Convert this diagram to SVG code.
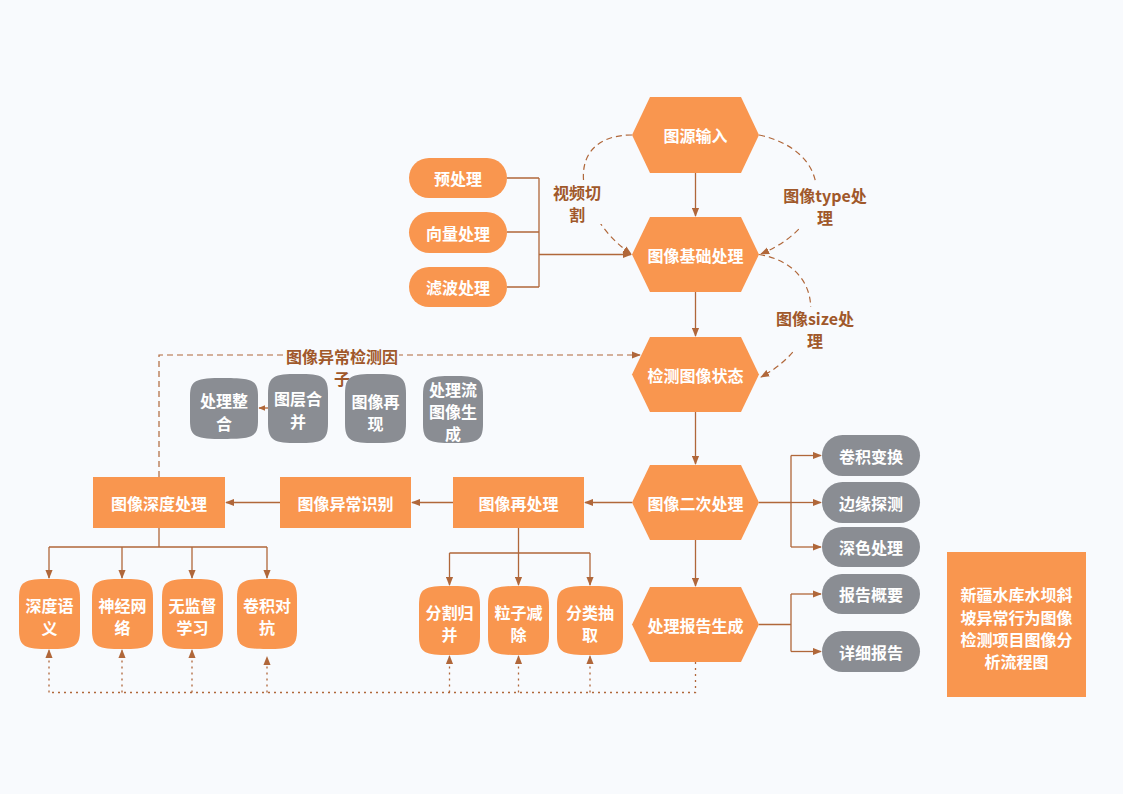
<svg xmlns="http://www.w3.org/2000/svg" width="1123" height="794" viewBox="0 0 1123 794">
<defs>
<style>
.bg{fill:#F8FAFD}
.or{fill:#F9964F}
.gr{fill:#8A8D93}
.ln{fill:none;stroke:#B0673A;stroke-width:1.3}
.da{fill:none;stroke:#B0673A;stroke-width:1.2;stroke-dasharray:6 4}
.dot{fill:none;stroke:#B0673A;stroke-width:1.3;stroke-dasharray:2 4}
.t{font-family:"Noto Sans CJK SC","Noto Sans",sans-serif;font-size:16px;font-weight:bold;fill:#FFFFFF;text-anchor:middle;dominant-baseline:central}
.lb{font-family:"Noto Sans CJK SC","Noto Sans",sans-serif;font-size:16px;font-weight:bold;fill:#A0582A;text-anchor:middle;dominant-baseline:central}
</style>
<marker id="ah" viewBox="0 0 10 8" refX="9" refY="4" markerWidth="9" markerHeight="8" markerUnits="userSpaceOnUse" orient="auto">
<path d="M0,0 L10,4 L0,8 Z" fill="#B0673A"/>
</marker>
<marker id="ahs" viewBox="0 0 10 8" refX="9" refY="4" markerWidth="7" markerHeight="6" markerUnits="userSpaceOnUse" orient="auto">
<path d="M0,0 L10,4 L0,8 Z" fill="#B0673A"/>
</marker>
</defs>
<rect class="bg" x="0" y="0" width="1123" height="794"/>

<g id="connectors">
<path class="ln" d="M695.5,173 V216" marker-end="url(#ah)"/>
<path class="ln" d="M695.5,292 V336" marker-end="url(#ah)"/>
<path class="ln" d="M695.5,412 V464" marker-end="url(#ah)"/>
<path class="ln" d="M695.5,540 V586" marker-end="url(#ah)"/>
<path class="ln" d="M507,178 H539 M507,232 H539 M507,287 H539 M539,178 V287"/>
<path class="ln" d="M539,254.5 H631" marker-end="url(#ah)"/>
<path class="da" d="M632,135 C560,135 575,215 631,254" marker-end="url(#ah)"/>
<path class="da" d="M759,135 C830,150 840,220 761,254" marker-end="url(#ah)"/>
<path class="da" d="M759,254.5 C825,265 830,340 761,377" marker-end="url(#ah)"/>
<path class="da" d="M159,477 V355 H640" marker-end="url(#ah)"/>
<path class="ln" d="M632,502.5 H585" marker-end="url(#ah)"/>
<path class="ln" d="M453,502.5 H412" marker-end="url(#ah)"/>
<path class="ln" d="M280,502.5 H226" marker-end="url(#ah)"/>
<path class="ln" d="M268,408 H259" marker-end="url(#ahs)"/>
<path class="ln" d="M159,528 V547 M49,547 H267"/>
<path class="ln" d="M49,547 V578" marker-end="url(#ah)"/>
<path class="ln" d="M122,547 V578" marker-end="url(#ah)"/>
<path class="ln" d="M192,547 V578" marker-end="url(#ah)"/>
<path class="ln" d="M267,547 V578" marker-end="url(#ah)"/>
<path class="ln" d="M518.5,528 V553 M449.5,553 H590"/>
<path class="ln" d="M449.5,553 V585" marker-end="url(#ah)"/>
<path class="ln" d="M518.5,553 V585" marker-end="url(#ah)"/>
<path class="ln" d="M590,553 V585" marker-end="url(#ah)"/>
<path class="ln" d="M759,502.5 H791 M791,455.5 V547"/>
<path class="ln" d="M791,455.5 H821" marker-end="url(#ah)"/>
<path class="ln" d="M791,502.5 H821" marker-end="url(#ah)"/>
<path class="ln" d="M791,547 H821" marker-end="url(#ah)"/>
<path class="ln" d="M759,624.5 H791 M791,594 V651.5"/>
<path class="ln" d="M791,594 H821" marker-end="url(#ah)"/>
<path class="ln" d="M791,651.5 H821" marker-end="url(#ah)"/>
<path class="dot" d="M695.5,662 V692.5 H49"/>
<path class="dot" d="M49,692.5 V650" marker-end="url(#ah)"/>
<path class="dot" d="M122,692.5 V650" marker-end="url(#ah)"/>
<path class="dot" d="M192,692.5 V650" marker-end="url(#ah)"/>
<path class="dot" d="M267,692.5 V657" marker-end="url(#ah)"/>
<path class="dot" d="M449.5,692.5 V656" marker-end="url(#ah)"/>
<path class="dot" d="M518.5,692.5 V656" marker-end="url(#ah)"/>
<path class="dot" d="M590,692.5 V656" marker-end="url(#ah)"/>
</g>

<g id="labels">
<rect class="bg" x="552" y="181" width="50" height="43"/>
<text class="lb" x="577" y="192">视频切<tspan x="577" dy="22">割</tspan></text>
<rect class="bg" x="782" y="184" width="86" height="43"/>
<text class="lb" x="825" y="195">图像type处<tspan x="825" dy="22">理</tspan></text>
<rect class="bg" x="775" y="307" width="80" height="43"/>
<text class="lb" x="815" y="318">图像size处<tspan x="815" dy="22">理</tspan></text>
<rect class="bg" x="285" y="346" width="114" height="42"/>
<text class="lb" x="342" y="356">图像异常检测因<tspan x="342" dy="22">子</tspan></text>
</g>

<g id="n-tuyuan"><polygon class="or" points="632,135 650,97 741,97 759,135 741,173 650,173"/><text class="t" x="695.5" y="135">图源输入</text></g>
<g id="n-jichu"><polygon class="or" points="632,254.5 650,217 741,217 759,254.5 741,292 650,292"/><text class="t" x="695.5" y="254.5">图像基础处理</text></g>
<g id="n-jiance"><polygon class="or" points="632,374.5 650,337 741,337 759,374.5 741,412 650,412"/><text class="t" x="695.5" y="374.5">检测图像状态</text></g>
<g id="n-erci"><polygon class="or" points="632,502.5 650,465 741,465 759,502.5 741,540 650,540"/><text class="t" x="695.5" y="502.5">图像二次处理</text></g>
<g id="n-baogao"><polygon class="or" points="632,624.5 650,587 741,587 759,624.5 741,662 650,662"/><text class="t" x="695.5" y="624.5">处理报告生成</text></g>

<g id="n-yuchuli"><rect class="or" x="409" y="158" width="98" height="40" rx="20"/><text class="t" x="458" y="178">预处理</text></g>
<g id="n-xiangliang"><rect class="or" x="409" y="212" width="98" height="41" rx="20.5"/><text class="t" x="458" y="232.5">向量处理</text></g>
<g id="n-lvbo"><rect class="or" x="409" y="267" width="98" height="40" rx="20"/><text class="t" x="458" y="287">滤波处理</text></g>

<g id="n-shendu"><rect class="or" x="93" y="477" width="132" height="51"/><text class="t" x="159" y="502.5">图像深度处理</text></g>
<g id="n-yichang"><rect class="or" x="280" y="477" width="131" height="51"/><text class="t" x="345.5" y="502.5">图像异常识别</text></g>
<g id="n-zaichuli"><rect class="or" x="453" y="477" width="131" height="51"/><text class="t" x="518.5" y="502.5">图像再处理</text></g>

<g id="n-zhenghe"><path class="gr" d="M190,396 C190,380 196,378 224,378 C252,378 258,380 258,396 V421 C258,437 252,439 224,439 C196,439 190,437 190,421 Z"/><text class="t" x="224" y="400">处理整<tspan x="224" dy="23">合</tspan></text></g>
<g id="n-tuceng"><path class="gr" d="M268,394 C268,376 274,374 298,374 C322,374 328,376 328,394 V423 C328,441 322,443 298,443 C274,443 268,441 268,423 Z"/><text class="t" x="298" y="398">图层合<tspan x="298" dy="23">并</tspan></text></g>
<g id="n-zaixian"><path class="gr" d="M345,394 C345,376 351,374 375.5,374 C400,374 406,376 406,394 V423 C406,441 400,443 375.5,443 C351,443 345,441 345,423 Z"/><text class="t" x="375.5" y="401">图像再<tspan x="375.5" dy="22">现</tspan></text></g>
<g id="n-liutu"><path class="gr" d="M423,395 C423,378 429,376 453,376 C477,376 483,378 483,395 V424 C483,441 477,443 453,443 C429,443 423,441 423,424 Z"/><text class="t" x="453" y="389">处理流<tspan x="453" dy="22">图像生</tspan><tspan x="453" dy="22">成</tspan></text></g>

<g id="n-yuyi"><path class="or" d="M19,598 C19,581 25,579 49.5,579 C74,579 80,581 80,598 V630 C80,647 74,649 49.5,649 C25,649 19,647 19,630 Z"/><text class="t" x="49.5" y="605">深度语<tspan x="49.5" dy="22">义</tspan></text></g>
<g id="n-shenjing"><path class="or" d="M92,598 C92,581 98,579 122.5,579 C147,579 153,581 153,598 V630 C153,647 147,649 122.5,649 C98,649 92,647 92,630 Z"/><text class="t" x="122.5" y="605">神经网<tspan x="122.5" dy="22">络</tspan></text></g>
<g id="n-wujiandu"><path class="or" d="M162,598 C162,581 168,579 192.5,579 C217,579 223,581 223,598 V630 C223,647 217,649 192.5,649 C168,649 162,647 162,630 Z"/><text class="t" x="192.5" y="605">无监督<tspan x="192.5" dy="22">学习</tspan></text></g>
<g id="n-duikang"><path class="or" d="M237,598 C237,581 243,579 267,579 C291,579 297,581 297,598 V630 C297,647 291,649 267,649 C243,649 237,647 237,630 Z"/><text class="t" x="267" y="605">卷积对<tspan x="267" dy="22">抗</tspan></text></g>

<g id="n-fenge"><path class="or" d="M419,605 C419,588 425,586 449.5,586 C474,586 480,588 480,605 V636 C480,653 474,655 449.5,655 C425,655 419,653 419,636 Z"/><text class="t" x="449.5" y="612">分割归<tspan x="449.5" dy="22">并</tspan></text></g>
<g id="n-lizi"><path class="or" d="M488,605 C488,588 494,586 518.5,586 C543,586 549,588 549,605 V636 C549,653 543,655 518.5,655 C494,655 488,653 488,636 Z"/><text class="t" x="518.5" y="612">粒子减<tspan x="518.5" dy="22">除</tspan></text></g>
<g id="n-fenlei"><path class="or" d="M557,605 C557,588 564,586 590,586 C616,586 623,588 623,605 V636 C623,653 616,655 590,655 C564,655 557,653 557,636 Z"/><text class="t" x="590" y="612">分类抽<tspan x="590" dy="22">取</tspan></text></g>

<g id="n-juanji"><rect class="gr" x="822" y="435" width="98" height="41" rx="20.5"/><text class="t" x="871" y="455.5">卷积变换</text></g>
<g id="n-bianyuan"><rect class="gr" x="822" y="482" width="98" height="41" rx="20.5"/><text class="t" x="871" y="502.5">边缘探测</text></g>
<g id="n-shense"><rect class="gr" x="822" y="527" width="98" height="40" rx="20"/><text class="t" x="871" y="547">深色处理</text></g>
<g id="n-gaiyao"><rect class="gr" x="822" y="574" width="98" height="40" rx="20"/><text class="t" x="871" y="594">报告概要</text></g>
<g id="n-xiangxi"><rect class="gr" x="822" y="631" width="98" height="41" rx="20.5"/><text class="t" x="871" y="651.5">详细报告</text></g>

<g id="n-title"><rect class="or" x="947" y="552" width="139" height="145"/>
<text class="t" x="1016.5" y="594">新疆水库水坝斜<tspan x="1016.5" dy="22.5">坡异常行为图像</tspan><tspan x="1016.5" dy="22.5">检测项目图像分</tspan><tspan x="1016.5" dy="22">析流程图</tspan></text></g>
</svg>
